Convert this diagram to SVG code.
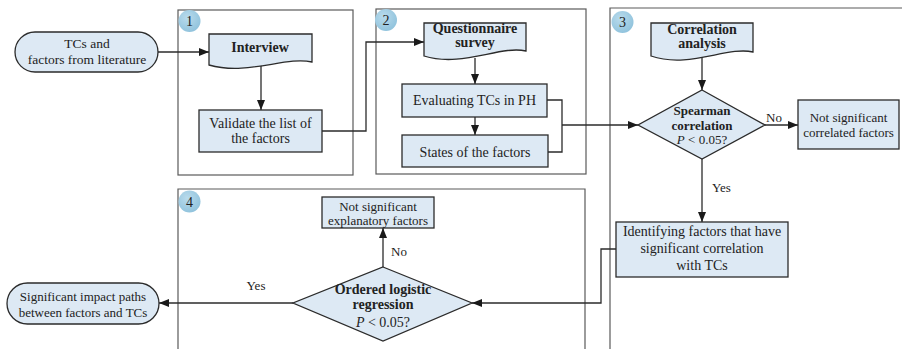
<svg xmlns="http://www.w3.org/2000/svg" width="902" height="349" viewBox="0 0 902 349">
<defs>
<marker id="ah" viewBox="0 0 10 8" refX="10" refY="4" markerWidth="10" markerHeight="8" markerUnits="userSpaceOnUse" orient="auto">
<path d="M0,0 L10,4 L0,8 Z" fill="#1a1a1a"/>
</marker>
<radialGradient id="bg" cx="0.4" cy="0.35" r="0.7">
<stop offset="0" stop-color="#b9dbec"/>
<stop offset="1" stop-color="#8fc2dc"/>
</radialGradient>
</defs>
<style>
.frame{fill:none;stroke:#5a5a5a;stroke-width:1.2}
.box{fill:#dde9f4;stroke:#2b2b2b;stroke-width:1.3}
.conn{fill:none;stroke:#2b2b2b;stroke-width:1.3}
.arr{marker-end:url(#ah)}
text{font-family:"Liberation Serif","Times New Roman",serif;fill:#222;font-size:14px}
.c{text-anchor:middle}
.b{font-weight:bold}
.s{font-size:13px}
.badge{fill:url(#bg)}
</style>
<rect width="902" height="349" fill="#ffffff"/>

<g id="frames">
<rect class="frame" x="178" y="10" width="175" height="165"/>
<rect class="frame" x="376" y="9" width="210" height="165"/>
<path class="frame" d="M610,349 V8 H902" stroke="#8a8a8a" stroke-width="1.5"/>
<path class="frame" d="M178,349 V189 H585 V349"/>
</g>

<g id="badges">
<circle class="badge" cx="189.5" cy="21" r="11"/><text class="c" x="189.5" y="26">1</text>
<circle class="badge" cx="386" cy="20" r="11"/><text class="c" x="386" y="25">2</text>
<circle class="badge" cx="622.5" cy="22" r="11"/><text class="c" x="622.5" y="27">3</text>
<circle class="badge" cx="189.5" cy="201.5" r="11"/><text class="c" x="189.5" y="206.5">4</text>
</g>

<g id="connectors">
<path class="conn arr" d="M158,52 H209"/>
<path class="conn arr" d="M261,64 V110"/>
<path class="conn arr" d="M322,131 H366 V42 H424"/>
<path class="conn arr" d="M475,58 V84"/>
<path class="conn arr" d="M475,117 V135"/>
<path class="conn" d="M547,100 H562 V152 H548"/>
<path class="conn arr" d="M562,125 H638"/>
<path class="conn arr" d="M702,57 V90"/>
<path class="conn arr" d="M765,125 H798"/>
<path class="conn arr" d="M702,159 V222"/>
<path class="conn arr" d="M616,249 H601 V303 H472"/>
<path class="conn arr" d="M383,267 V228"/>
<path class="conn arr" d="M293,303 H159"/>
<text class="s" x="766" y="122">No</text>
<text class="s" x="712" y="192">Yes</text>
<text class="s" x="391" y="256">No</text>
<text class="s c" x="256" y="290">Yes</text>
</g>

<g id="start">
<rect class="box" x="15" y="32" width="143" height="40" rx="20" ry="20"/>
<text class="c s" x="87" y="48" style="font-size:13.5px">TCs and</text>
<text class="c s" x="87" y="64" style="font-size:13.5px">factors from literature</text>
</g>

<g id="interview">
<path class="box" d="M209,34 H312 V62 C285,56 248,76 209,65 Z"/>
<text class="c b" x="260" y="52">Interview</text>
</g>

<g id="validate">
<rect class="box" x="199" y="110" width="123" height="42"/>
<text class="c" x="260.5" y="128">Validate the list of</text>
<text class="c" x="260.5" y="143">the factors</text>
</g>

<g id="questionnaire">
<path class="box" d="M424,23 H526 V51 C500,45 462,68 424,56 Z"/>
<text class="c b" x="475" y="33">Questionnaire</text>
<text class="c b" x="475" y="47">survey</text>
</g>

<g id="evaluating">
<rect class="box" x="402" y="84" width="145" height="33"/>
<text class="c" x="474.5" y="105">Evaluating TCs in PH</text>
</g>

<g id="states">
<rect class="box" x="402" y="135" width="146" height="32"/>
<text class="c" x="475" y="157">States of the factors</text>
</g>

<g id="correlation">
<path class="box" d="M651,23 H753 V52 C727,46 689,69 651,56 Z"/>
<text class="c b" x="702" y="34">Correlation</text>
<text class="c b" x="702" y="48">analysis</text>
</g>

<g id="spearman">
<path class="box" d="M702,90 L765,125 L702,159 L638,125 Z"/>
<text class="c b s" x="702" y="115">Spearman</text>
<text class="c b s" x="702" y="130">correlation</text>
<text class="c s" x="702" y="144"><tspan font-style="italic">P</tspan> &lt; 0.05?</text>
</g>

<g id="notcorrelated">
<rect class="box" x="798" y="100" width="101" height="49"/>
<text class="c s" x="848.5" y="122">Not significant</text>
<text class="c s" x="848.5" y="137">correlated factors</text>
</g>

<g id="identifying">
<rect class="box" x="616" y="222" width="172" height="55"/>
<text class="c" x="702" y="236">Identifying factors that have</text>
<text class="c" x="702" y="253">significant correlation</text>
<text class="c" x="702" y="270">with TCs</text>
</g>

<g id="ordered">
<path class="box" d="M383,267 L472,303 L383,341 L293,303 Z"/>
<text class="c b" x="383" y="294">Ordered logistic</text>
<text class="c b" x="383" y="309">regression</text>
<text class="c" x="383" y="327"><tspan font-style="italic">P</tspan> &lt; 0.05?</text>
</g>

<g id="notexplanatory">
<rect class="box" x="322" y="197" width="112" height="31"/>
<text class="c s" x="378" y="211">Not significant</text>
<text class="c s" x="378" y="225">explanatory factors</text>
</g>

<g id="end">
<rect class="box" x="7" y="283" width="152" height="41" rx="20.5" ry="20.5"/>
<text class="c s" x="83" y="301">Significant impact paths</text>
<text class="c s" x="83" y="317">between factors and TCs</text>
</g>
</svg>
